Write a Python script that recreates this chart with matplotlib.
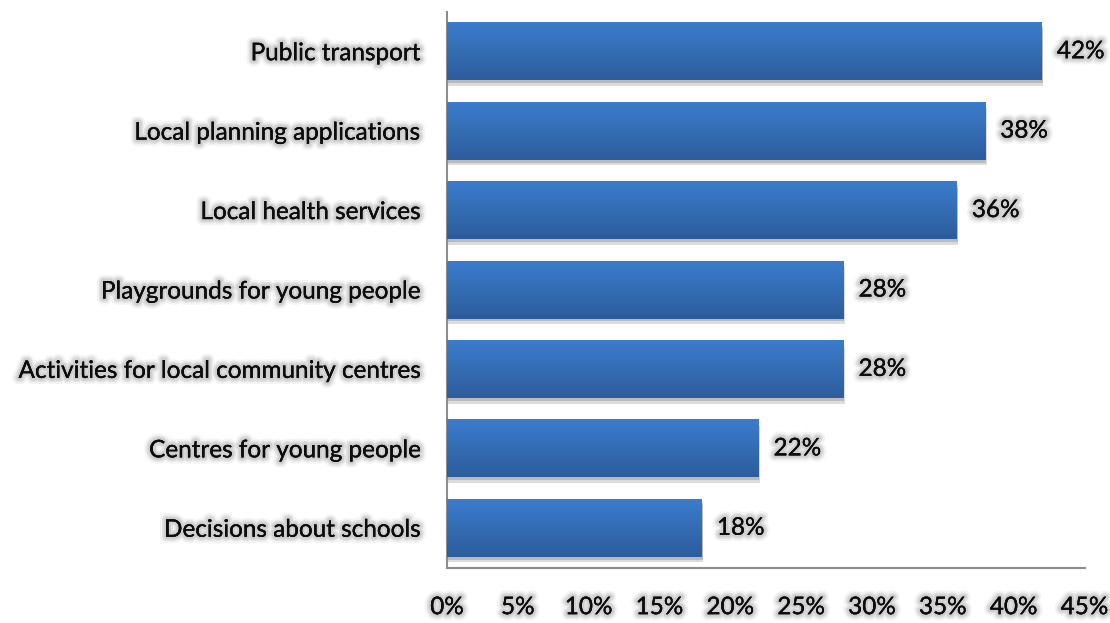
import matplotlib

matplotlib.use("Agg")

import matplotlib.pyplot as plt
import matplotlib.patheffects as pe
import numpy as np
from matplotlib.ticker import MultipleLocator, PercentFormatter

categories = [
    "Public transport",
    "Local planning applications",
    "Local health services",
    "Playgrounds for young people",
    "Activities for local community centres",
    "Centres for young people",
    "Decisions about schools",
]
shares = [42, 38, 36, 28, 28, 22, 18]

TOP = "#3b7ccc"
BOTTOM = "#2d5d9c"
INK = "#0d0d0d"
SPINE = "#8c8c8c"
FS = 17.5

plt.rcParams["font.family"] = ["Lato", "DejaVu Sans"]

# soft grey halo behind every piece of text
GLOW = [
    pe.withStroke(linewidth=9, foreground="#b8b8b8", alpha=0.15),
    pe.withStroke(linewidth=6, foreground="#aaaaaa", alpha=0.25),
    pe.withStroke(linewidth=3.5, foreground="#a8a8a8", alpha=0.3),
]

fig = plt.figure(figsize=(11.1, 6.23), dpi=100)
ax = fig.add_axes([447 / 1110, 1 - 568 / 623, 637.5 / 1110, 556 / 623])

y = np.arange(len(categories))
bars = ax.barh(
    y,
    shares,
    height=0.72,
    color=BOTTOM,
    zorder=2,
    path_effects=[
        pe.SimplePatchShadow(offset=(1, -4), shadow_rgbFace="#777777", alpha=0.25),
        pe.SimplePatchShadow(offset=(0.5, -2), shadow_rgbFace="#555555", alpha=0.25),
        pe.Normal(),
    ],
)

# vertical gradient on each bar, lighter at the top
grad = np.linspace(0, 1, 64).reshape(-1, 1)
cmap = matplotlib.colors.LinearSegmentedColormap.from_list("bar", [TOP, BOTTOM])
for bar, val in zip(bars, shares):
    x0, y0 = bar.get_x(), bar.get_y()
    w, h = bar.get_width(), bar.get_height()
    ax.imshow(
        grad,
        extent=(x0, x0 + w, y0 + h, y0),
        cmap=cmap,
        aspect="auto",
        zorder=3,
        interpolation="bicubic",
    )
    t = ax.text(
        x0 + w + 1.05,
        y0 + h / 2,
        f"{val}%",
        va="center",
        ha="left",
        fontsize=FS,
        color=INK,
        zorder=4,
    )
    t.set_path_effects(GLOW + [pe.Normal()])

ax.set_xlim(0, 45)
ax.set_ylim(len(categories) - 0.5, -0.5)
ax.xaxis.set_major_locator(MultipleLocator(5))
ax.xaxis.set_major_formatter(PercentFormatter(decimals=0))
ax.set_yticks(y)
ax.set_yticklabels(categories)

ax.tick_params(axis="both", length=0, labelsize=FS, colors=INK)
ax.tick_params(axis="x", pad=21)
ax.tick_params(axis="y", pad=19)
for lab in ax.get_xticklabels() + ax.get_yticklabels():
    lab.set_path_effects(GLOW + [pe.Normal()])

for side in ("top", "right"):
    ax.spines[side].set_visible(False)
for side in ("left", "bottom"):
    ax.spines[side].set_color(SPINE)
    ax.spines[side].set_linewidth(1.5)

fig.savefig("out.png", dpi=100)
